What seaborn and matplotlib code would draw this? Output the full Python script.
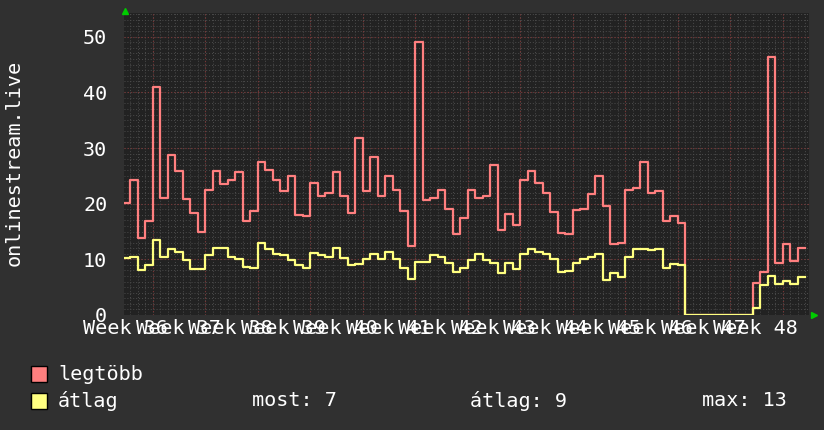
import numpy as np
import pandas as pd
import matplotlib
matplotlib.use('Agg')
from matplotlib import pyplot as plt
from matplotlib.patches import Rectangle
import seaborn as sns

# napi értékek
legtobb = [20.2, 24.3, 13.9, 16.8, 41.0, 21.0, 28.7, 25.8, 20.9, 18.3,
           15.0, 22.4, 25.8, 23.5, 24.3, 25.6, 16.8, 18.6, 27.4, 26.1,
           24.3, 22.3, 24.9, 18.0, 17.8, 23.8, 21.3, 21.9, 25.6, 21.3,
           18.3, 31.8, 22.2, 28.3, 21.3, 24.9, 22.5, 18.6, 12.4, 49.1,
           20.7, 21.1, 22.5, 19.1, 14.6, 17.5, 22.5, 21.1, 21.3, 26.9,
           15.3, 18.1, 16.2, 24.2, 25.8, 23.8, 21.9, 18.5, 14.8, 14.6,
           18.8, 19.0, 21.7, 24.9, 19.5, 12.7, 13.0, 22.5, 22.8, 27.4,
           22.0, 22.3, 16.8, 17.8, 16.6, 0, 0, 0, 0, 0,
           0, 0, 0, 0, 5.8, 7.8, 46.4, 9.3, 12.8, 9.7,
           12.0]
atlag = [10.3, 10.5, 8.1, 9.0, 13.4, 10.5, 11.9, 11.3, 9.9, 8.2,
         8.2, 10.8, 12.1, 12.0, 10.5, 10.1, 8.7, 8.5, 13.0, 11.8,
         11.0, 10.7, 9.8, 8.9, 8.4, 11.2, 10.8, 10.5, 12.1, 10.2,
         9.0, 9.2, 10.1, 11.0, 10.0, 11.4, 10.0, 8.5, 6.5, 9.6,
         9.5, 10.8, 10.4, 9.3, 7.7, 8.5, 9.8, 10.9, 9.9, 9.3,
         7.6, 9.4, 8.2, 10.9, 11.9, 11.4, 10.9, 10.0, 7.8, 7.9,
         9.4, 10.0, 10.5, 11.0, 6.3, 7.6, 6.9, 10.5, 11.9, 11.9,
         11.6, 11.9, 8.5, 9.2, 9.0, 0, 0, 0, 0, 0,
         0, 0, 0, 0, 1.2, 5.4, 7.0, 5.6, 6.1, 5.6,
         6.9]
het_cimkek = ['Week 36', 'Week 37', 'Week 38', 'Week 39', 'Week 40', 'Week 41', 'Week 42',
              'Week 43', 'Week 44', 'Week 45', 'Week 46', 'Week 47', 'Week 48']
sorozatok = ['legtöbb', 'átlag']
szinek = ['#ff7f7f', '#ffff80']

BG = '#303030'
PLOT_BG = '#222222'
FONT = 'DejaVu Sans Mono'

plt.rcParams['font.family'] = [FONT, 'DejaVu Sans']

# lépcsős rajzhoz az utolsó értéket megismételjük
napok = np.arange(len(legtobb) + 1)
df = pd.concat([
    pd.DataFrame({'nap': napok, 'ertek': legtobb + legtobb[-1:], 'sor': sorozatok[0]}),
    pd.DataFrame({'nap': napok, 'ertek': atlag + atlag[-1:], 'sor': sorozatok[1]}),
])

fig = plt.figure(figsize=(8.24, 4.30), dpi=100, facecolor=BG)
W, H = 824, 430
ax = fig.add_axes([124 / W, 1 - 315 / H, 685 / W, 301.7 / H])
ax.set_facecolor(PLOT_BG)

# rács: napi és egységnyi (szürke), heti és tízes (piros)
for d in range(0, 92):
    ax.axvline(d, color='#4c4c4c', lw=0.7, ls=(0, (1, 2)), zorder=0)
for v in range(1, 55):
    ax.axhline(v, color='#4c4c4c', lw=0.7, ls=(0, (1, 2)), zorder=0)
for k in range(len(het_cimkek)):
    ax.axvline(4 + 7 * k, color='#7a3434', lw=0.8, ls=(0, (1, 2)), zorder=0.5)
for v in range(10, 51, 10):
    ax.axhline(v, color='#7a3434', lw=0.8, ls=(0, (1, 2)), zorder=0.5)

sns.lineplot(data=df, x='nap', y='ertek', hue='sor', palette=szinek,
             drawstyle='steps-post', lw=1.6, legend=False, errorbar=None,
             ax=ax, zorder=3)

ax.set_xlim(0.17, 91.5)
ax.set_ylim(0, 54.2)
ax.set_xticks([0.4 + 7 * k for k in range(len(het_cimkek))])
ax.set_xticklabels(het_cimkek)
ax.set_yticks(range(0, 51, 10))
ax.tick_params(axis='x', length=0, pad=3, labelsize=14.5, colors='white')
ax.tick_params(axis='y', length=0, pad=12, labelsize=14.5, colors='white')
ax.set_xlabel('')
ax.set_ylabel('onlinestream.live', color='white', fontsize=14.5)
ax.yaxis.set_label_coords(-0.147, 0.504)
for s in ax.spines.values():
    s.set_visible(False)

# zöld nyilak a tengelyek végén
ax.plot([0.002], [1.009], marker='^', color='#00cc00', ms=5, transform=ax.transAxes, clip_on=False)
ax.plot([1.0075], [0.0], marker='>', color='#00cc00', ms=5, transform=ax.transAxes, clip_on=False)

# jelmagyarázat
most = round(atlag[-1])
atl = round(float(np.mean(atlag)))
mx = round(max(atlag))
for i, (nev, c) in enumerate(zip(sorozatok, szinek)):
    yc = 374 + 27 * i
    fig.add_artist(Rectangle((31 / W, 1 - (yc + 8) / H), 16 / W, 16 / H,
                             transform=fig.transFigure, facecolor=c, edgecolor='black', lw=1))
    fig.text(58 / W, 1 - yc / H, nev, color='white', fontsize=14.5, va='center', ha='left')
fig.text(252 / W, 1 - 401 / H, f'most: {most}', color='white', fontsize=14.5, va='center')
fig.text(470 / W, 1 - 401 / H, f'átlag: {atl}', color='white', fontsize=14.5, va='center')
fig.text(702 / W, 1 - 401 / H, f'max: {mx}', color='white', fontsize=14.5, va='center')

fig.savefig('out.png', dpi=100, facecolor=BG)
